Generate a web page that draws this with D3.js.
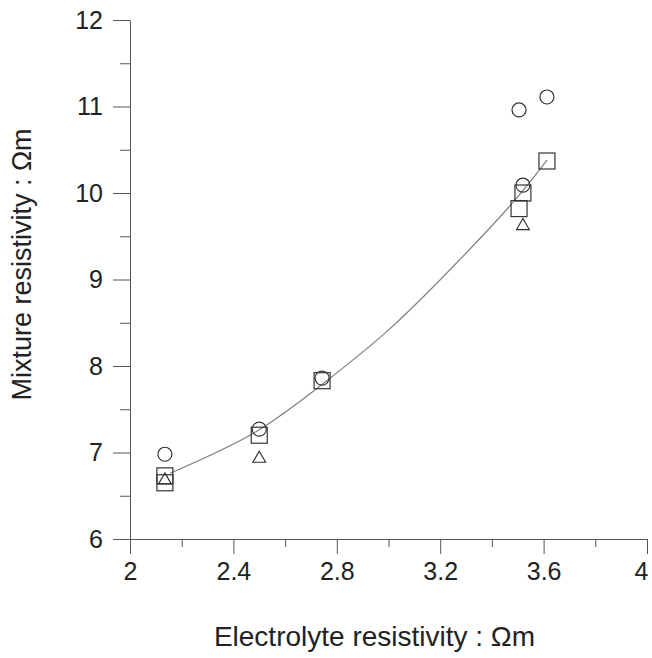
<!DOCTYPE html>
<html>
<head>
<meta charset="utf-8">
<script src="https://cdn.jsdelivr.net/npm/d3@7"></script>
<style>
  body { margin: 0; background: #fff; }
  svg text { font-family: "Liberation Sans", Arial, sans-serif; fill: #222; }
</style>
</head>
<body>
<div id="chart"></div>
<script>
// values
const circlePts = [
    [2.135, 6.98], [2.50, 7.27], [2.743, 7.86],
    [3.505, 10.96], [3.613, 11.11], [3.52, 10.09]
];
const squarePts = [
    [2.135, 6.73], [2.135, 6.65], [2.50, 7.20], [2.743, 7.83],
    [3.613, 10.37], [3.52, 10.00], [3.505, 9.82]
];
const trianglePts = [
    [2.135, 6.68], [2.50, 6.93], [3.52, 9.62]
];
// fitted curve
const curvePts = [
    [2.155, 6.76], [2.476, 7.22], [2.74, 7.78], [2.994, 8.40],
    [3.25, 9.15], [3.478, 9.88], [3.613, 10.38]
];
const xTicks = [2, 2.4, 2.8, 3.2, 3.6, 4];
const xMinor = [2.2, 2.6, 3.0, 3.4, 3.8];
const yTicks = [6, 7, 8, 9, 10, 11, 12];
const yMinor = [6.5, 7.5, 8.5, 9.5, 10.5, 11.5];

const margin = {top: 20, right: 5, bottom: 119, left: 130};
const width = 517, height = 519;

const svg = d3.select("#chart").append("svg")
    .attr("width", 652)
    .attr("height", 658);

const g = svg.append("g")
    .attr("transform", "translate(" + margin.left + "," + margin.top + ")");

const x = d3.scaleLinear().domain([2, 4]).range([0, width]);
const y = d3.scaleLinear().domain([6, 12]).range([height, 0]);

const axisColor = "#555";

// minor ticks first so the majors sit on top
g.append("g")
    .attr("transform", "translate(0," + height + ")")
    .call(d3.axisBottom(x).tickValues(xMinor).tickSize(8).tickSizeOuter(0).tickFormat(""))
    .call(a => a.select(".domain").remove());
g.append("g")
    .call(d3.axisLeft(y).tickValues(yMinor).tickSize(10).tickSizeOuter(0).tickFormat(""))
    .call(a => a.select(".domain").remove());

const xAxisG = g.append("g")
    .attr("transform", "translate(0," + height + ")")
    .call(d3.axisBottom(x).tickValues(xTicks).tickSize(15).tickSizeOuter(0)
        .tickFormat(d => String(d)));
const yAxisG = g.append("g")
    .call(d3.axisLeft(y).tickValues(yTicks).tickSize(17).tickSizeOuter(0)
        .tickFormat(d => String(d)));

g.selectAll(".tick line").attr("stroke", axisColor);
g.selectAll(".domain").attr("stroke", axisColor);

xAxisG.selectAll(".tick text")
    .attr("y", 23)
    .attr("dy", "0.71em")
    .attr("x", d => d === 4 ? -6 : 0)
    .style("font-size", "25px");
yAxisG.selectAll(".tick text")
    .attr("x", -27)
    .style("font-size", "25px");

// axis titles
svg.append("text")
    .attr("x", margin.left + width / 2 - 14)
    .attr("y", 646)
    .attr("text-anchor", "middle")
    .style("font-size", "28px")
    .text("Electrolyte resistivity : Ωm");

svg.append("text")
    .attr("transform", "translate(31," + (margin.top + height / 2 - 15) + ") rotate(-90)")
    .attr("text-anchor", "middle")
    .style("font-size", "27px")
    .text("Mixture resistivity : Ωm");

// fitted curve
g.append("path")
    .datum(curvePts)
    .attr("fill", "none")
    .attr("stroke", "#808080")
    .attr("stroke-width", 1.2)
    .attr("d", d3.line().x(d => x(d[0])).y(d => y(d[1])).curve(d3.curveNatural));

const markStroke = "#333";

g.selectAll(".circ")
    .data(circlePts)
    .enter().append("circle")
    .attr("class", "circ")
    .attr("cx", d => x(d[0]))
    .attr("cy", d => y(d[1]))
    .attr("r", 7)
    .attr("fill", "none")
    .attr("stroke", markStroke)
    .attr("stroke-width", 1.2);

g.selectAll(".sq")
    .data(squarePts)
    .enter().append("rect")
    .attr("class", "sq")
    .attr("x", d => x(d[0]) - 8)
    .attr("y", d => y(d[1]) - 8)
    .attr("width", 16)
    .attr("height", 16)
    .attr("fill", "none")
    .attr("stroke", markStroke)
    .attr("stroke-width", 1.2);

const tri = d3.symbol().type(d3.symbolTriangle).size(70);
g.selectAll(".tri")
    .data(trianglePts)
    .enter().append("path")
    .attr("class", "tri")
    .attr("transform", d => "translate(" + x(d[0]) + "," + y(d[1]) + ")")
    .attr("d", tri)
    .attr("fill", "none")
    .attr("stroke", markStroke)
    .attr("stroke-width", 1.2);
</script>
</body>
</html>
